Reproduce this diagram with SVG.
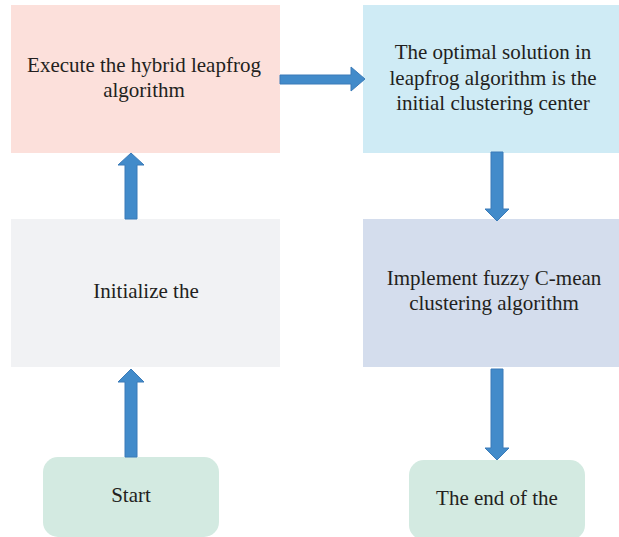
<svg xmlns="http://www.w3.org/2000/svg" width="619" height="537" viewBox="0 0 619 537">
<style>
.t{font-family:"Liberation Serif","Times New Roman",serif;font-size:21px;fill:#231F20;text-anchor:middle}
.ar{fill:#428BCA;stroke:#3A7BB8;stroke-width:1}
</style>
<rect width="619" height="537" fill="#FFFFFF"/>
<g id="node-execute">
<rect x="11" y="5" width="269" height="148" fill="#FCE0DB"/>
<text class="t" x="144" y="72">Execute the hybrid leapfrog</text>
<text class="t" x="144" y="97">algorithm</text>
</g>
<g id="node-optimal">
<rect x="363" y="5" width="256" height="148" fill="#CFEBF5"/>
<text class="t" x="493" y="59">The optimal solution in</text>
<text class="t" x="493" y="85">leapfrog algorithm is the</text>
<text class="t" x="493" y="110">initial clustering center</text>
</g>
<g id="node-init">
<rect x="11" y="219" width="269" height="148" fill="#F1F2F4"/>
<text class="t" x="146" y="298">Initialize the</text>
</g>
<g id="node-fcm">
<rect x="363" y="219" width="256" height="148" fill="#D4DDED"/>
<text class="t" x="494" y="285">Implement fuzzy C-mean</text>
<text class="t" x="494" y="310">clustering algorithm</text>
</g>
<g id="node-start">
<rect x="43" y="457" width="176" height="80" rx="15" ry="15" fill="#D3EAE1"/>
<text class="t" x="131" y="502">Start</text>
</g>
<g id="node-end">
<rect x="409" y="460" width="176" height="80" rx="15" ry="15" fill="#D3EAE1"/>
<text class="t" x="497" y="505">The end of the</text>
</g>
<g id="connectors">
<path class="ar" d="M125 457 L125 382 L118 382 L131 369 L144 382 L137 382 L137 457 Z"/>
<path class="ar" d="M125 219 L125 165 L118 165 L131 153 L144 165 L137 165 L137 219 Z"/>
<path class="ar" d="M280 75 L351 75 L351 67 L365 79 L351 91 L351 84 L280 84 Z"/>
<path class="ar" d="M491 152 L491 209 L485 209 L497 221 L509 209 L503 209 L503 152 Z"/>
<path class="ar" d="M491 369 L491 448 L485 448 L497 460 L509 448 L503 448 L503 369 Z"/>
</g>
</svg>
